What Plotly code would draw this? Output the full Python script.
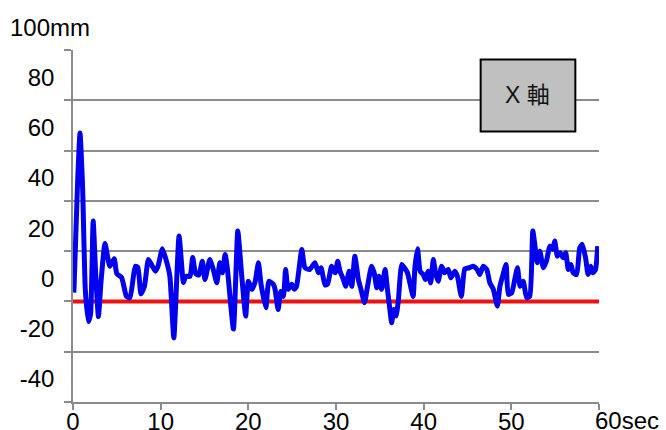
import plotly.graph_objects as go

# X-axis displacement over time (mm) sampled from the sensor log
time_s = [
    0.1, 0.5, 0.8, 1.1, 1.4, 1.75, 2.0, 2.3, 2.6, 2.9, 3.2, 3.65, 4.2, 4.7, 5.0,
    5.55, 6.1, 6.5, 7.1, 7.4, 7.75, 8.15, 8.6, 9.05, 9.4, 9.7, 10.2, 10.7, 11.05,
    11.5, 12.1, 12.6, 12.85, 13.35, 13.65, 14.0, 14.35, 14.75, 15.05, 15.6, 16.0,
    16.4, 16.75, 17.05, 17.35, 17.6, 18.3, 18.8, 19.25, 19.7, 20.0, 20.4, 20.75,
    21.15, 21.45, 22.0, 22.35, 22.85, 23.05, 23.4, 23.7, 24.0, 24.25, 24.55, 24.95,
    25.25, 25.5, 26.1, 26.45, 27.0, 27.6, 28.0, 28.3, 28.75, 29.05, 29.5, 29.9,
    30.2, 30.45, 30.85, 31.1, 31.5, 31.8, 32.15, 32.55, 32.85, 33.25, 33.6, 34.05,
    34.35, 34.65, 34.9, 35.2, 35.6, 35.85, 36.1, 36.35, 36.6, 36.85, 37.1, 37.5,
    37.8, 38.15, 38.55, 38.8, 39.0, 39.3, 39.6, 39.95, 40.2, 40.5, 40.8, 41.1,
    41.35, 41.65, 42.05, 42.4, 42.8, 43.1, 43.55, 43.85, 44.3, 44.7, 45.2, 45.65,
    46.1, 46.4, 46.8, 47.2, 47.55, 47.95, 48.4, 48.7, 49.0, 49.4, 49.65, 50.05,
    50.35, 50.7, 51.0, 51.35, 51.75, 52.1, 52.45, 52.7, 52.95, 53.25, 53.65, 54.0,
    54.4, 54.7, 54.95, 55.25, 55.55, 55.9, 56.2, 56.5, 56.8, 57.05, 57.45, 57.8,
    58.1, 58.5, 58.75, 59.05, 59.3, 59.6, 59.85,
]
x_axis_mm = [
    3.5, 45, 67, 45, 5, -8, -5, 32, 10, -6, 8, 23, 14, 17, 11,
    9.5, 2, 1.5, 14, 13.5, 3, 6, 16.7, 14, 12, 14, 21, 15.5, 10,
    -14.5, 26, 7.5, 10, 10, 17.5, 11, 10.5, 16, 8.7, 16.7, 12.7,
    7.4, 15.4, 11.4, 18.7, 13.4, -11, 28, 10, -5.8, 8, 4.8, 7.4,
    15.4, 6.8, -2.5, 8, 6.8, 4.8, -3.2, 4, 2, 12.7, 4.8, 6.8,
    4.8, 6, 20.7, 13.4, 12.7, 15.4, 11.4, 13.4, 6.5, 7, 14, 11.4,
    16, 12, 8.7, 6, 12, 6, 18, 8.7, 4.8, -0.5, 6, 14,
    11.4, 5.4, 10, 4.8, 12.7, 5.4, -1.8, -8.5, -3.2, -5.8, 0, 14.7,
    13.4, 11.4, 5.4, 2, 13.4, 21, 12, 10.7, 8.7, 12, 7.4, 16.7,
    11.4, 8, 14, 11.4, 12.7, 9.4, 12, 10, 2, 13, 13.4, 14,
    12.7, 10.7, 14, 12.7, 7.4, 4.8, -1.8, 6, 10, 14.7, 2.8, 3.5,
    8, 13.4, 6, 8, 1.5, 2, 28, 22, 15.4, 20, 13.4, 16,
    22, 20.7, 24, 18, 19.4, 17.4, 19.4, 12.7, 14.7, 11.4, 10.7, 21.3,
    22.7, 16.7, 10.7, 14, 11.4, 12.7, 22,
]

# Reference (zero) level across the whole record
ref_time = [0, 60]
ref_level = [0, 0]

x_ticks = [0, 10, 20, 30, 40, 50, 60]
x_tick_text = ["0", "10", "20", "30", "40", "50", ""]
y_ticks = [-40, -20, 0, 20, 40, 60, 80, 100]
y_tick_text = ["-40", "-20", "0", "20", "40", "60", "80", ""]

FONT = "Liberation Sans, Arial, sans-serif"
GRID = "#8c8c8c"

fig = go.Figure()
fig.add_trace(go.Scatter(
    x=ref_time, y=ref_level, mode="lines",
    line=dict(color="#ee1111", width=4), hoverinfo="skip", showlegend=False,
))
fig.add_trace(go.Scatter(
    x=time_s, y=x_axis_mm, mode="lines",
    line=dict(color="#0000ee", width=5, shape="spline", smoothing=0.5),
    showlegend=False,
))

# Label box in the upper right of the plot
fig.add_shape(type="rect", xref="x", yref="y", x0=46.5, x1=57.3, y0=67.6, y1=96.2,
              fillcolor="#c0c0c0", line=dict(color="#000000", width=2), layer="above")
fig.add_annotation(x=51.9, y=82, xref="x", yref="y", text="X 軸", showarrow=False,
                   font=dict(family="Liberation Sans, Noto Sans CJK JP, sans-serif",
                             size=23, color="#111111"))

# Unit labels on the axes
fig.add_annotation(x=0, y=100, xref="paper", yref="y", text="100mm", showarrow=False,
                   xanchor="left", yanchor="middle", xshift=-65, yshift=23,
                   font=dict(family=FONT, size=24, color="#000000"))
fig.add_annotation(x=60, y=0, xref="x", yref="paper", text="60sec", showarrow=False,
                   xanchor="left", yanchor="top", xshift=-6, yshift=-3,
                   font=dict(family=FONT, size=24, color="#000000"))

fig.update_layout(
    width=666, height=430,
    margin=dict(l=73, r=67, t=50, b=28),
    paper_bgcolor="#ffffff", plot_bgcolor="#ffffff",
    font=dict(family=FONT, size=24, color="#000000"),
)
fig.update_xaxes(
    range=[0, 60], tickvals=x_ticks, ticktext=x_tick_text, automargin=False,
    showgrid=False, zeroline=False, showline=True, linecolor=GRID, linewidth=1.5,
    ticks="outside", ticklen=6, tickcolor=GRID, tickwidth=1.5,
    ticklabelstandoff=-9,
)
fig.update_yaxes(
    range=[-40, 100], tickvals=y_ticks, ticktext=y_tick_text, automargin=False,
    showgrid=True, gridcolor=GRID, gridwidth=1.5, zeroline=False,
    showline=True, linecolor=GRID, linewidth=1.5,
    ticks="outside", ticklen=7, tickcolor=GRID, tickwidth=1.5,
    ticklabelshift=-23, ticklabelstandoff=5,
)

fig.write_html("out.html")
